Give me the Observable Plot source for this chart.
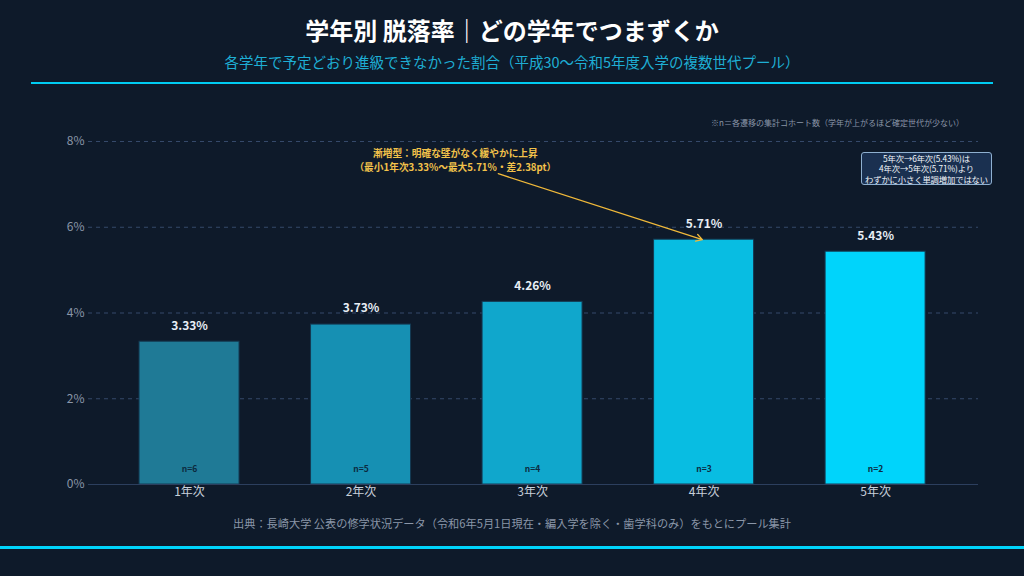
<!DOCTYPE html>
<html><head><meta charset="utf-8">
<script src="https://cdn.jsdelivr.net/npm/d3@7"></script>
<script src="https://cdn.jsdelivr.net/npm/@observablehq/plot@0.6"></script>
<style>
html,body{margin:0;padding:0;background:#0e1a2a;width:1024px;height:576px;overflow:hidden;font-family:"Noto Sans CJK JP","Noto Sans",sans-serif;}
#wrap{position:relative;width:1024px;height:576px;}
.abs{position:absolute;}
#title{top:13px;left:0;width:1024px;text-align:center;color:#fff;font-size:24px;font-weight:bold;line-height:34px;}
#subtitle{top:51px;left:0;width:1024px;text-align:center;color:#1eaed4;font-size:14.5px;line-height:22px;}
#topline{top:82px;left:31px;width:962px;height:2px;background:#00ccf2;}
#chart{top:100px;left:0;}
#note{top:117px;right:60px;color:#8a96a8;font-size:8px;line-height:12px;}
#box{top:152px;left:861px;width:131px;height:33px;box-sizing:border-box;border:1px solid #8fb0d0;border-radius:3px;background:#1a3050;color:#f2f6fa;font-size:8.3px;line-height:10.4px;text-align:center;padding-top:0px;white-space:nowrap;letter-spacing:-0.1px;}
#caption{top:514px;left:0;width:1024px;text-align:center;color:#8a96a8;font-size:11.2px;line-height:18px;}
#botline{top:546px;left:0;width:1024px;height:3px;background:#00d4fa;}
</style></head>
<body><div id="wrap">
<div id="title" class="abs">学年別 脱落率｜どの学年でつまずくか</div>
<div id="subtitle" class="abs">各学年で予定どおり進級できなかった割合（平成30〜令和5年度入学の複数世代プール）</div>
<div id="topline" class="abs"></div>
<div id="chart" class="abs"></div>
<div id="note" class="abs">※n＝各遷移の集計コホート数（学年が上がるほど確定世代が少ない）</div>
<div id="box" class="abs">5年次→6年次(5.43%)は<br>4年次→5年次(5.71%)より<br>わずかに小さく単調増加ではない</div>
<div id="caption" class="abs">出典：長崎大学 公表の修学状況データ（令和6年5月1日現在・編入学を除く・歯学科のみ）をもとにプール集計</div>
<div id="botline" class="abs"></div>
</div>
<script>
const grades = ["1年次","2年次","3年次","4年次","5年次"];
const rates = [3.33, 3.73, 4.26, 5.71, 5.43];
const cohorts = [6, 5, 4, 3, 2];
const barColors = ["#1f7a96","#1690b3","#10a7cc","#08bde2","#00d4fb"];
const yTicks = [0, 2, 4, 6, 8];
const annoLines = ["漸増型：明確な壁がなく緩やかに上昇", "（最小1年次3.33%〜最大5.71%・差2.38pt）"];

const data = grades.map((g, i) => ({i, grade: g, rate: rates[i], n: cohorts[i], color: barColors[i]}));
const half = 0.2915;
const peak = data[3];
const anno = annoLines.map((t, k) => ({t, y: k === 0 ? 7.70 : 7.38}));

const plot = Plot.plot({
  width: 1024, height: 420,
  marginLeft: 88, marginRight: 46, marginTop: 41, marginBottom: 36,
  style: {background: "transparent", fontFamily: '"Noto Sans CJK JP","Noto Sans",sans-serif'},
  x: {domain: [-0.589, 4.6], axis: null, label: null},
  y: {domain: [0, 8], axis: null, label: null},
  marks: [
    Plot.gridY([2, 4, 6, 8], {stroke: "#35496a", strokeOpacity: 1, strokeDasharray: "4,4"}),
    Plot.rectY(data, {x1: d => d.i - half, x2: d => d.i + half, y1: 0, y2: "rate", fill: "color", stroke: "#143a52", strokeWidth: 1}),
    Plot.ruleY([0], {stroke: "#2c3f5e", strokeWidth: 1.2}),
    Plot.axisY({ticks: yTicks, tickFormat: d => d + "%", tickSize: 0, tickPadding: 4, fill: "#8a96a8", fontSize: 12, label: null}),
    Plot.axisX({ticks: data.map(d => d.i), tickFormat: i => grades[i], tickSize: 0, tickPadding: 3, fill: "#c8d0da", fontSize: 12, label: null}),
    Plot.text(data, {x: "i", y: "rate", text: d => d.rate.toFixed(2) + "%", dy: -16, fill: "#e8eef5", fontWeight: "bold", fontSize: 12}),
    Plot.text(data, {x: "i", y: 0, text: d => "n=" + d.n, dy: -15, fill: "#0c2a40", fontWeight: "bold", fontSize: 8.5}),
    Plot.arrow([peak], {x1: () => 1.8, y1: () => 7.25, x2: d => d.i - 0.01, y2: "rate", stroke: "#f0b93a", strokeWidth: 1.3, headLength: 8, bend: false}),
    Plot.text(anno, {x: () => 1.55, y: "y", text: "t", fill: "#f2c24a", fontWeight: "bold", fontSize: 9.7})
  ]
});
document.getElementById("chart").appendChild(plot);
</script>
</body></html>
